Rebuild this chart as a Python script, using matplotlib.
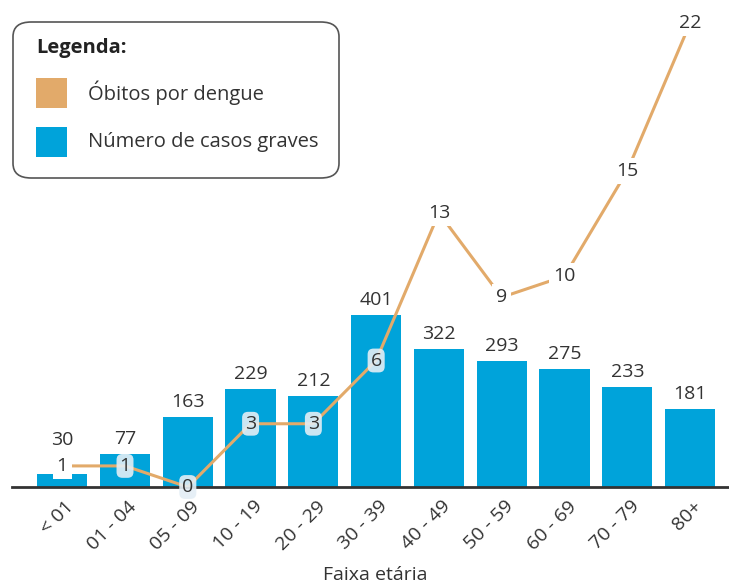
import matplotlib

matplotlib.use('Agg')
import matplotlib.pyplot as plt
import matplotlib.transforms as mtransforms
from matplotlib.patches import FancyBboxPatch, Rectangle
import numpy as np

plt.rcParams['font.family'] = ['Open Sans', 'DejaVu Sans']

faixas = ["< 01", "01 - 04", "05 - 09", "10 - 19", "20 - 29", "30 - 39",
          "40 - 49", "50 - 59", "60 - 69", "70 - 79", "80+"]
casos_graves = [30, 77, 163, 229, 212, 401, 322, 293, 275, 233, 181]
obitos = [1, 1, 0, 3, 3, 6, 13, 9, 10, 15, 22]

BLUE = "#00A3DA"
ORANGE = "#E2AA6A"
TEXT = "#333333"
FS = 14

fig = plt.figure(figsize=(7.29, 5.86), dpi=100)
ax = fig.add_axes([12 / 729, 99 / 586, 717 / 729, 487 / 586])
x = np.arange(len(faixas))

Y1MAX = 1135
Y2MAX = 23.1
PX = 487  # altura do eixo em pixels

ax.bar(x, casos_graves, width=0.8, color=BLUE, zorder=2)
for xi, v, o in zip(x, casos_graves, obitos):
    # rótulo acima da barra; sobe se o ponto da linha estiver colado no topo
    top_px = v * PX / Y1MAX
    pt_px = o * PX / Y2MAX
    y_px = top_px + 15
    if abs(pt_px - top_px) < 20:
        y_px = max(y_px, pt_px + 26)
    ax.text(xi, y_px * Y1MAX / PX, str(v), ha="center", va="center",
            fontsize=FS, color=TEXT)

ax.set_xlim(-0.8, 10.62)
ax.set_ylim(0, Y1MAX)
for s in ["top", "right", "left"]:
    ax.spines[s].set_visible(False)
ax.spines["bottom"].set_color("#333333")
ax.spines["bottom"].set_linewidth(2)
ax.spines["bottom"].set_zorder(3)
ax.set_yticks([])
ax.set_xticks(x)
ax.set_xticklabels(faixas, rotation=45, ha="right", va="center",
                   rotation_mode="anchor", fontsize=FS, color=TEXT)
ax.tick_params(axis="x", length=0, pad=12)
shift = mtransforms.ScaledTranslation(9 / 100, 0, fig.dpi_scale_trans)
for lbl in ax.get_xticklabels():
    lbl.set_transform(lbl.get_transform() + shift)
fig.text(375 / 729, 1 - 575 / 586, "Faixa etária", fontsize=FS, color=TEXT,
         ha="center", va="center")

# linha de óbitos no segundo eixo
ax2 = ax.twinx()
ax2.set_ylim(0, Y2MAX)
ax2.axis("off")
ax2.plot(x, obitos, color=ORANGE, linewidth=2.2, zorder=3)
for xi, v, c in zip(x, obitos, casos_graves):
    inside = v * Y1MAX / Y2MAX < c
    if inside:
        box = dict(boxstyle="round,pad=0.15,rounding_size=0.3", fc="#E4EEF5",
                   ec="none", alpha=0.9)
    else:
        box = dict(boxstyle="square,pad=0.2", fc="white", ec="none")
    ax2.text(xi, v, str(v), ha="center", va="center", fontsize=FS,
             color=TEXT, bbox=box, zorder=4)

# legenda desenhada à mão
leg = FancyBboxPatch((13 / 729, 408 / 586), 326 / 729, 156 / 586,
                     boxstyle="round,pad=0,rounding_size=0.025",
                     transform=fig.transFigure, fc="white", ec="#555555",
                     lw=1.2, zorder=10)
fig.patches.append(leg)
fig.text(36 / 729, 1 - 48 / 586, "Legenda:", fontsize=14.5, fontweight="bold",
         color="#222222", va="center", zorder=11)
for yy, col, lab in [(93, ORANGE, "Óbitos por dengue"),
                     (142, BLUE, "Número de casos graves")]:
    fig.patches.append(Rectangle((36 / 729, 1 - (yy + 15) / 586), 31 / 729, 30 / 586,
                                 transform=fig.transFigure, fc=col, ec="none",
                                 zorder=11))
    fig.text(88 / 729, 1 - yy / 586, lab, fontsize=14.5, color=TEXT,
             va="center", zorder=11)

fig.savefig("out.png", dpi=100)
